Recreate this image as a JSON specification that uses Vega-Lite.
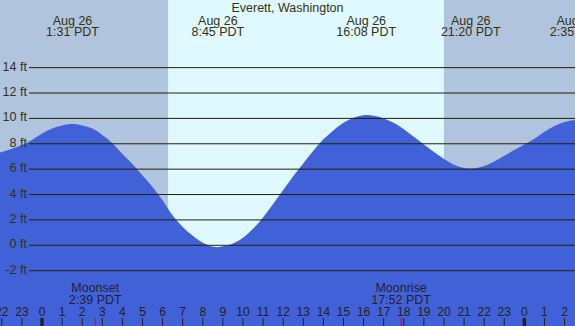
{
  "$schema": "https://vega.github.io/schema/vega-lite/v6.json",
  "width": 575,
  "height": 326,
  "padding": 0,
  "autosize": "none",
  "background": "#b0c4de",
  "config": {"view": {"stroke": null}},
  "datasets": {
    "tide": [
      {"h": -2.1, "ft": 7.3}, {"h": -1.5, "ft": 7.6}, {"h": -1, "ft": 7.9}, {"h": -0.5, "ft": 8.3},
      {"h": 0, "ft": 8.8}, {"h": 0.5, "ft": 9.2}, {"h": 1, "ft": 9.45}, {"h": 1.5, "ft": 9.56},
      {"h": 2, "ft": 9.45}, {"h": 2.5, "ft": 9.2}, {"h": 3, "ft": 8.7}, {"h": 3.5, "ft": 8.05},
      {"h": 4, "ft": 7.2}, {"h": 4.5, "ft": 6.4}, {"h": 5, "ft": 5.5}, {"h": 5.5, "ft": 4.6},
      {"h": 6, "ft": 3.55}, {"h": 6.5, "ft": 2.35}, {"h": 7, "ft": 1.45}, {"h": 7.5, "ft": 0.75},
      {"h": 8, "ft": 0.2}, {"h": 8.5, "ft": -0.1}, {"h": 8.75, "ft": -0.15}, {"h": 9, "ft": -0.08},
      {"h": 9.5, "ft": 0.15}, {"h": 10, "ft": 0.6}, {"h": 10.5, "ft": 1.3}, {"h": 11, "ft": 2.2},
      {"h": 11.5, "ft": 3.25}, {"h": 12, "ft": 4.35}, {"h": 12.5, "ft": 5.45}, {"h": 13, "ft": 6.45},
      {"h": 13.5, "ft": 7.45}, {"h": 14, "ft": 8.35}, {"h": 14.5, "ft": 9.05}, {"h": 15, "ft": 9.65},
      {"h": 15.5, "ft": 10.05}, {"h": 16, "ft": 10.25}, {"h": 16.15, "ft": 10.27}, {"h": 16.5, "ft": 10.2},
      {"h": 17, "ft": 10.0}, {"h": 17.5, "ft": 9.65}, {"h": 18, "ft": 9.15}, {"h": 18.5, "ft": 8.55},
      {"h": 19, "ft": 7.95}, {"h": 19.5, "ft": 7.35}, {"h": 20, "ft": 6.8}, {"h": 20.5, "ft": 6.35},
      {"h": 21, "ft": 6.1}, {"h": 21.33, "ft": 6.05}, {"h": 21.5, "ft": 6.07}, {"h": 22, "ft": 6.25},
      {"h": 22.5, "ft": 6.6}, {"h": 23, "ft": 7.05}, {"h": 23.5, "ft": 7.5}, {"h": 24, "ft": 7.95},
      {"h": 24.5, "ft": 8.4}, {"h": 25, "ft": 8.95}, {"h": 25.5, "ft": 9.4}, {"h": 26, "ft": 9.72},
      {"h": 26.6, "ft": 9.9}
    ],
    "bg": [
      {"start": -2.09, "end": 6.27, "period": "night"},
      {"start": 6.27, "end": 20.0, "period": "day"},
      {"start": 20.0, "end": 26.52, "period": "night"}
    ],
    "grid": [
      {"ft": -2, "label": "-2 ft"}, {"ft": 0, "label": "0 ft"}, {"ft": 2, "label": "2 ft"},
      {"ft": 4, "label": "4 ft"}, {"ft": 6, "label": "6 ft"}, {"ft": 8, "label": "8 ft"},
      {"ft": 10, "label": "10 ft"}, {"ft": 12, "label": "12 ft"}, {"ft": 14, "label": "14 ft"}
    ],
    "hours": [
      {"h": -2, "label": "22"}, {"h": -1, "label": "23"}, {"h": 0, "label": "0"}, {"h": 1, "label": "1"},
      {"h": 2, "label": "2"}, {"h": 3, "label": "3"}, {"h": 4, "label": "4"}, {"h": 5, "label": "5"},
      {"h": 6, "label": "6"}, {"h": 7, "label": "7"}, {"h": 8, "label": "8"}, {"h": 9, "label": "9"},
      {"h": 10, "label": "10"}, {"h": 11, "label": "11"}, {"h": 12, "label": "12"}, {"h": 13, "label": "13"},
      {"h": 14, "label": "14"}, {"h": 15, "label": "15"}, {"h": 16, "label": "16"}, {"h": 17, "label": "17"},
      {"h": 18, "label": "18"}, {"h": 19, "label": "19"}, {"h": 20, "label": "20"}, {"h": 21, "label": "21"},
      {"h": 22, "label": "22"}, {"h": 23, "label": "23"}, {"h": 24, "label": "0"}, {"h": 25, "label": "1"},
      {"h": 26, "label": "2"}
    ],
    "events": [
      {"h": 1.517, "date": "Aug 26", "time": "1:31 PDT"},
      {"h": 8.75, "date": "Aug 26", "time": "8:45 PDT"},
      {"h": 16.133, "date": "Aug 26", "time": "16:08 PDT"},
      {"h": 21.333, "date": "Aug 26", "time": "21:20 PDT"},
      {"h": 26.583, "date": "Aug 27", "time": "2:35 PDT"}
    ],
    "moon": [
      {"h": 2.65, "name": "Moonset", "time": "2:39 PDT"},
      {"h": 17.867, "name": "Moonrise", "time": "17:52 PDT"}
    ],
    "title": [{"h": 12.214, "text": "Everett, Washington"}]
  },
  "layer": [
    {
      "data": {"name": "bg"},
      "mark": {"type": "rect"},
      "encoding": {
        "x": {"field": "start", "type": "quantitative", "scale": {"domain": [-2.09, 26.52], "nice": false, "zero": false}, "axis": null},
        "x2": {"field": "end"},
        "color": {"field": "period", "type": "nominal", "scale": {"domain": ["night", "day"], "range": ["#b0c4de", "#e0f8ff"]}, "legend": null}
      }
    },
    {
      "data": {"name": "tide"},
      "mark": {"type": "area", "interpolate": "monotone", "color": "#4161d8", "clip": true},
      "encoding": {
        "x": {"field": "h", "type": "quantitative", "scale": {"domain": [-2.09, 26.52], "nice": false, "zero": false}, "axis": null},
        "y": {"field": "ft", "type": "quantitative", "scale": {"domain": [-6.36, 19.33], "nice": false, "zero": false}, "axis": null},
        "y2": {"datum": -6.36}
      }
    },
    {
      "data": {"name": "grid"},
      "mark": {"type": "rule", "color": "#222200", "strokeWidth": 1},
      "encoding": {
        "y": {"field": "ft", "type": "quantitative", "axis": null},
        "x": {"datum": -0.647, "type": "quantitative", "axis": null},
        "x2": {"datum": 26.52}
      }
    },
    {
      "data": {"name": "grid"},
      "mark": {"type": "text", "font": "Liberation Sans", "fontSize": 12.5, "color": "#333311", "align": "right", "baseline": "middle", "dy": -1},
      "encoding": {
        "y": {"field": "ft", "type": "quantitative", "axis": null},
        "x": {"datum": -0.75, "type": "quantitative", "axis": null},
        "text": {"field": "label"}
      }
    },
    {
      "data": {"name": "hours"},
      "mark": {"type": "rule", "color": "#222222"},
      "encoding": {
        "x": {"field": "h", "type": "quantitative", "axis": null},
        "y": {"datum": -5.73, "type": "quantitative", "axis": null},
        "y2": {"datum": -6.36},
        "strokeWidth": {"condition": {"test": "datum.h % 24 === 0", "value": 3.5}, "value": 1}
      }
    },
    {
      "data": {"name": "hours"},
      "mark": {"type": "text", "font": "Liberation Sans", "fontSize": 12, "color": "#222222", "align": "center", "baseline": "alphabetic"},
      "encoding": {
        "x": {"field": "h", "type": "quantitative", "axis": null},
        "y": {"datum": -5.6, "type": "quantitative", "axis": null},
        "text": {"field": "label"}
      }
    },
    {
      "data": {"name": "moon"},
      "mark": {"type": "rule", "color": "#ee0000", "strokeWidth": 1},
      "encoding": {
        "x": {"field": "h", "type": "quantitative", "axis": null},
        "y": {"datum": -5.73, "type": "quantitative", "axis": null},
        "y2": {"datum": -6.36}
      }
    },
    {
      "data": {"name": "moon"},
      "mark": {"type": "text", "font": "Liberation Sans", "fontSize": 12.5, "color": "#222233", "baseline": "alphabetic", "align": "center"},
      "encoding": {
        "x": {"field": "h", "type": "quantitative", "axis": null},
        "y": {"datum": -3.68, "type": "quantitative", "axis": null},
        "text": {"field": "name"}
      }
    },
    {
      "data": {"name": "moon"},
      "mark": {"type": "text", "font": "Liberation Sans", "fontSize": 12.5, "color": "#222233", "baseline": "alphabetic", "align": "center"},
      "encoding": {
        "x": {"field": "h", "type": "quantitative", "axis": null},
        "y": {"datum": -4.59, "type": "quantitative", "axis": null},
        "text": {"field": "time"}
      }
    },
    {
      "data": {"name": "events"},
      "mark": {"type": "text", "font": "Liberation Sans", "fontSize": 12.5, "color": "#333311", "baseline": "alphabetic", "align": "center"},
      "encoding": {
        "x": {"field": "h", "type": "quantitative", "axis": null},
        "y": {"datum": 17.36, "type": "quantitative", "axis": null},
        "text": {"field": "date"}
      }
    },
    {
      "data": {"name": "events"},
      "mark": {"type": "text", "font": "Liberation Sans", "fontSize": 12.5, "color": "#333311", "baseline": "alphabetic", "align": "center"},
      "encoding": {
        "x": {"field": "h", "type": "quantitative", "axis": null},
        "y": {"datum": 16.49, "type": "quantitative", "axis": null},
        "text": {"field": "time"}
      }
    },
    {
      "data": {"name": "title"},
      "mark": {"type": "text", "font": "Liberation Sans", "fontSize": 12.5, "color": "#333311", "baseline": "alphabetic", "align": "center"},
      "encoding": {
        "x": {"field": "h", "type": "quantitative", "axis": null},
        "y": {"datum": 18.41, "type": "quantitative", "axis": null},
        "text": {"field": "text"}
      }
    }
  ]
}
